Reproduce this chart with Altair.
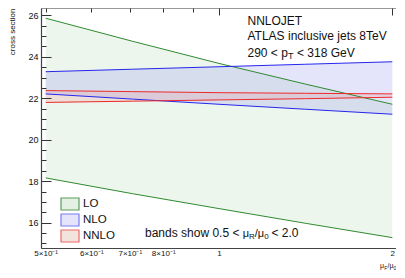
import json
import pandas as pd
import altair as alt

# ---- data ----
mu = [0.5, 0.7071, 1.0, 1.4142, 2.0]
lo_up = [25.86, 24.75, 23.68, 22.68, 21.71]
lo_dn = [18.16, 17.40, 16.68, 15.97, 15.28]
nlo_up = [23.28, 23.40, 23.52, 23.64, 23.76]
nlo_dn = [22.21, 21.96, 21.71, 21.47, 21.23]
nnlo_up = [22.37, 22.32, 22.27, 22.24, 22.21]
nnlo_dn = [21.80, 21.86, 21.92, 21.98, 22.05]
bands = ["LO", "NLO", "NNLO"]

x_ticks = [0.5, 0.6, 0.7, 0.8, 0.9, 1, 2]
x_tick_labels = ["5×10⁻¹", "6×10⁻¹", "7×10⁻¹", "8×10⁻¹", "", "1", "2"]
y_ticks = [15.0, 15.5, 16.0, 16.5, 17.0, 17.5, 18.0, 18.5, 19.0, 19.5, 20.0, 20.5,
           21.0, 21.5, 22.0, 22.5, 23.0, 23.5, 24.0, 24.5, 25.0, 25.5, 26.0]
y_label_ticks = [16, 18, 20, 22, 24, 26]

info_lines = ["NNLOJET", "ATLAS inclusive jets 8TeV"]
pt_parts = ["290 < p", "T", "< 318 GeV"]
band_parts = ["bands show 0.5 < ", "μ", "R", "/μ", "0", "< 2.0"]
xtitle_parts = ["μ", "F", "/μ", "0"]
y_title = "cross section"

# ---- styles ----
FONT = "Liberation Sans"
area_cols = ["#8fc48f", "#9494ee", "#ee8c8c"]
area_op = [0.16, 0.25, 0.22]
line_cols = ["#2f8a2f", "#2626ee", "#ee2a2a"]
leg_fill = ["#e4f0e4", "#e4e4fb", "#f2e3dd"]
leg_stroke = ["#5c9c5c", "#7c7cf4", "#f06a6a"]

rows = []
for name, up, dn in [("LO", lo_up, lo_dn), ("NLO", nlo_up, nlo_dn), ("NNLO", nnlo_up, nnlo_dn)]:
    for m, u, d in zip(mu, up, dn):
        rows.append({"mu": m, "band": name, "hi": u, "lo": d})
df = pd.DataFrame(rows)

def jsnum(v):
    return "%g" % v

lab_map = {jsnum(v): l for v, l in zip(x_ticks, x_tick_labels)}
x_label_expr = json.dumps(lab_map, ensure_ascii=False) + "[datum.value]"
y_label_expr = "indexof(%s, datum.value) >= 0 ? datum.value : ''" % json.dumps(y_label_ticks)

x_scale = alt.Scale(type="log", domain=[0.4907, 2.0297], nice=False)
y_scale = alt.Scale(domain=[14.78, 26.352], nice=False, zero=False)

x_axis = alt.Axis(
    values=x_ticks, labelExpr=x_label_expr, title=None,
    ticks=False, tickSize=0, grid=True,
    gridDash={"condition": {"test": "datum.value == 1 || datum.value == 2", "value": [7, 1000]},
              "value": [4, 1000]},
    gridColor="#333", gridWidth=1, gridOpacity=1,
    domainColor="#444", domainWidth=1.2,
    labelFont=FONT, labelFontSize=8, labelColor="#111", labelPadding=1,
    labelFlush=False, labelOverlap=False, zindex=1,
)
y_axis = alt.Axis(
    values=y_ticks, labelExpr=y_label_expr, title=y_title,
    ticks=False, tickSize=0, grid=True,
    gridDash={"condition": {"test": "datum.value % 2 == 0", "value": [10, 1000]},
              "value": [5, 1000]},
    gridColor="#333", gridWidth=1, gridOpacity=1,
    domainColor="#444", domainWidth=1.2,
    labelFont=FONT, labelFontSize=9, labelColor="#111", labelPadding=3,
    labelFlush=False, labelOverlap=False,
    titleFont=FONT, titleFontSize=8, titleFontWeight="normal", titleColor="#111",
    titleAngle=270, titleAlign="right", titleBaseline="bottom", titleX=-25, titleY=0,
    zindex=1,
)

def xenc():
    return alt.X("mu:Q", scale=x_scale, axis=x_axis)

def yenc(field):
    return alt.Y(field + ":Q", scale=y_scale, axis=y_axis)

base = alt.Chart(df)

area_layers = []
line_layers = []
for name, ac, op, lc in zip(bands, area_cols, area_op, line_cols):
    sub = base.transform_filter(alt.datum.band == name)
    area_layers.append(
        sub.mark_area(color=ac, opacity=op).encode(
            x=xenc(), y=yenc("hi"), y2=alt.Y2("lo"))
    )
    line_layers.append(
        sub.mark_line(color=lc, strokeWidth=1).encode(
            x=xenc(), y=yenc("hi"), order=alt.Order("mu:Q"))
    )
    line_layers.append(
        sub.mark_line(color=lc, strokeWidth=1).encode(
            x=xenc(), y=yenc("lo"), order=alt.Order("mu:Q"))
    )

SYM = "M-1.5,-1L1.5,-1L1.5,1L-1.5,1Z"
leg = alt.Legend(
    title=None, orient="none", legendX=22, legendY=189,
    symbolType=SYM, symbolSize=144, symbolStrokeWidth=1.2,
    labelFont=FONT, labelFontSize=11.5, labelColor="#111", labelOffset=6,
    rowPadding=-2, padding=0,
)
carrier = alt.Chart(pd.DataFrame({"band": bands})).mark_point(
    filled=True, size=144, shape=SYM, strokeWidth=1.2, opacity=1, clip=True
).encode(
    x=alt.value(-200), y=alt.value(-200),
    fill=alt.Fill("band:N", scale=alt.Scale(domain=bands, range=leg_fill), legend=leg),
    stroke=alt.Stroke("band:N", scale=alt.Scale(domain=bands, range=leg_stroke), legend=leg),
)

def txt(s, x, y, size, align="left"):
    return alt.Chart(pd.DataFrame({"t": [s]})).mark_text(
        align=align, baseline="alphabetic", font=FONT, fontSize=size, color="#111"
    ).encode(text="t:N", x=alt.value(x), y=alt.value(y))

texts = [
    txt(info_lines[0], 206.5, 17, 12),
    txt(info_lines[1], 206.5, 31.5, 12),
    txt(pt_parts[0], 206.5, 48.7, 12),
    txt(pt_parts[1], 246.9, 50.7, 9),
    txt(pt_parts[2], 256.0, 48.7, 12),
    txt(band_parts[0], 104, 229.3, 12),
    txt(band_parts[1], 201.7, 229.3, 11),
    txt(band_parts[2], 208.0, 231.3, 8),
    txt(band_parts[3], 213.8, 229.3, 11),
    txt(band_parts[4], 223.2, 231.3, 8),
    txt(band_parts[5], 230.5, 229.3, 12),
    txt(xtitle_parts[0], 339.0, 260, 7),
    txt(xtitle_parts[1], 343.2, 261.5, 5),
    txt(xtitle_parts[2], 346.5, 260, 7),
    txt(xtitle_parts[3], 352.6, 261.5, 5),
]

chart = alt.layer(*area_layers, *line_layers, carrier, *texts).resolve_scale(
    fill="independent", stroke="independent"
).properties(
    width=355, height=240,
    padding={"left": 33, "top": 0, "right": 0, "bottom": 22},
    autosize=alt.AutoSizeParams(type="none"),
    background="white",
).configure_view(stroke="#999", strokeWidth=1)

chart.save("out.html", embed_options={"renderer": "svg", "actions": False})
